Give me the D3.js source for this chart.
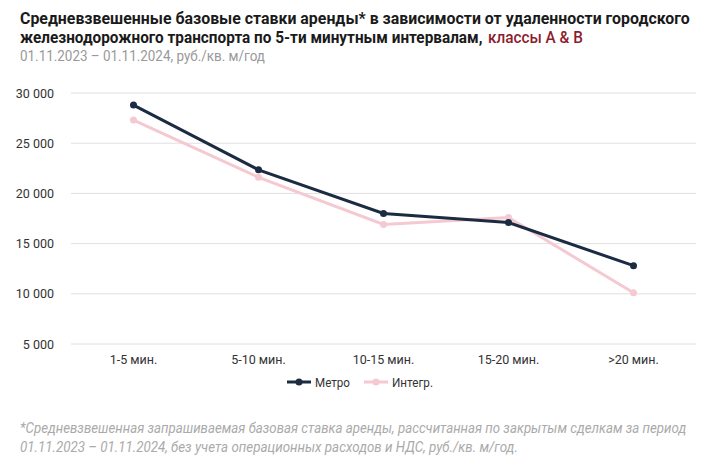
<!DOCTYPE html>
<meta charset="utf-8">
<script src="https://cdn.jsdelivr.net/npm/d3@7"></script>
<style>
  body { margin: 0; background: #fff; font-family: Roboto, sans-serif; }
</style>
<body>
<div id="chart"></div>
<script>
var categories = ["1-5 мин.", "5-10 мин.", "10-15 мин.", "15-20 мин.", ">20 мин."]
var metro = [28800, 22350, 18000, 17100, 12800]
var integ = [27300, 21600, 16900, 17600, 10100]
var yTicks = [5000, 10000, 15000, 20000, 25000, 30000]
var seriesNames = ["Метро", "Интегр."]
var colors = ["#1b2b42", "#f5c9d1"]

var width = 711, height = 473
var margin = {top: 93, right: 15, bottom: 129, left: 71}

var svg = d3.select("#chart").append("svg")
  .attr("width", width).attr("height", height)

// the original font is condensed, so squeeze texts horizontally to its widths
function squeezed(parent, x, y, size, len, txt, styles) {
  var g = parent.append("g")
  var t = g.append("text").style("font-size", size + "px").text(txt)
  for (var k in styles) t.style(k, styles[k])
  var natural = t.node().getComputedTextLength()
  g.attr("transform", "translate(" + x + "," + y + ") scale(" + (len / natural) + ",1)")
  return t
}

var bold = {"font-weight": 700, "fill": "#1a1a1a"}
// titles
squeezed(svg, 20, 24, 16, 670, "Средневзвешенные базовые ставки аренды* в зависимости от удаленности городского", bold)
squeezed(svg, 20, 43, 16, 463, "железнодорожного транспорта по 5-ти минутным интервалам,", bold)
squeezed(svg, 488, 43, 16, 95, "классы A & B", {"font-weight": 500, "fill": "#8c1d2e"})
squeezed(svg, 20, 61, 14, 245, "01.11.2023 – 01.11.2024, руб./кв. м/год", {"fill": "#999"})

var x = d3.scaleBand()
  .domain(categories)
  .range([margin.left, width - margin.right])
var y = d3.scaleLinear()
  .domain([5000, 30000])
  .range([height - margin.bottom, margin.top])

// grid
svg.append("g")
  .selectAll("line")
  .data(yTicks)
  .enter().append("line")
  .attr("x1", margin.left).attr("x2", width - margin.right)
  .attr("y1", function(d) { return y(d) })
  .attr("y2", function(d) { return y(d) })
  .attr("stroke", "#e0e0e0").attr("stroke-width", 1)

var yAxis = svg.append("g")
  .attr("transform", "translate(" + (margin.left - 14) + ",0)")
  .call(d3.axisLeft(y).tickValues(yTicks).tickSize(0)
    .tickFormat(function(d) { return d3.format(",")(d).replace(",", " ") }))
yAxis.select(".domain").remove()
yAxis.selectAll("text").style("font-size", "12.5px").style("fill", "#333").style("font-family", "Roboto, sans-serif")

var xAxis = svg.append("g")
  .attr("transform", "translate(0," + (height - margin.bottom + 8) + ")")
  .call(d3.axisBottom(x).tickSize(0))
xAxis.select(".domain").remove()
xAxis.selectAll("text").style("font-size", "12.5px").style("fill", "#333").style("font-family", "Roboto, sans-serif")

var line = d3.line()
  .x(function(d, i) { return x(categories[i]) + x.bandwidth() / 2 })
  .y(function(d) { return y(d) })

// draw integ first so metro sits above
var series = [integ, metro]
var seriesColors = [colors[1], colors[0]]
for (var s = 0; s < series.length; s++) {
  svg.append("path")
    .datum(series[s])
    .attr("d", line)
    .attr("fill", "none")
    .attr("stroke", seriesColors[s])
    .attr("stroke-width", 3)
  svg.append("g").selectAll("circle")
    .data(series[s])
    .enter().append("circle")
    .attr("cx", function(d, i) { return x(categories[i]) + x.bandwidth() / 2 })
    .attr("cy", function(d) { return y(d) })
    .attr("r", 3.5)
    .attr("fill", seriesColors[s])
}

// legend
var legendX = [287, 364]
var legendLen = [35, 41]
for (var i = 0; i < seriesNames.length; i++) {
  var lg = svg.append("g").attr("transform", "translate(" + legendX[i] + ",382)")
  lg.append("line").attr("x1", 0).attr("x2", 24).attr("y1", 0).attr("y2", 0)
    .attr("stroke", colors[i]).attr("stroke-width", 3)
  lg.append("circle").attr("cx", 12).attr("cy", 0).attr("r", 3.5).attr("fill", colors[i])
  squeezed(lg, 28, 4.5, 12.5, legendLen[i], seriesNames[i], {"fill": "#333"})
}

// footnote
var foot = {"font-style": "italic", "fill": "#aaa"}
squeezed(svg, 20, 433, 14.5, 667, "*Средневзвешенная запрашиваемая базовая ставка аренды, рассчитанная по закрытым сделкам за период", foot)
squeezed(svg, 20, 452, 14.5, 498, "01.11.2023 – 01.11.2024, без учета операционных расходов и НДС, руб./кв. м/год.", foot)
</script>
</body>
